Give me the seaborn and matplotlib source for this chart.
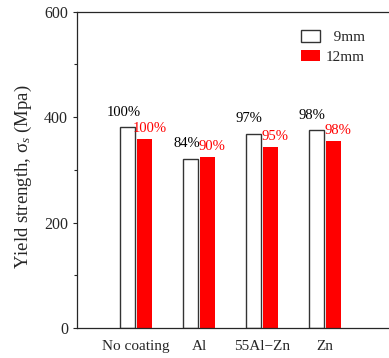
import pandas as pd
import seaborn as sns
import matplotlib.pyplot as plt
from matplotlib.ticker import MultipleLocator

# %% data
coatings = ['No coating', 'Al', '55Al\u2212Zn', 'Zn']
yield_9mm = [381, 321, 369, 375]
yield_12mm = [359, 325, 344, 355]
pct_9mm = ['100%', '84%', '97%', '98%']
pct_12mm = ['100%', '90%', '95%', '98%']

df = pd.DataFrame({
    'Coating': coatings * 2,
    'Yield': yield_9mm + yield_12mm,
    'Size': ['9mm'] * 4 + ['12mm'] * 4,
})

# %% style
sns.set_style('ticks')
plt.rcParams['font.family'] = ['Liberation Serif', 'DejaVu Serif']
plt.rcParams['mathtext.fontset'] = 'custom'
plt.rcParams['mathtext.rm'] = 'Liberation Serif'
plt.rcParams['mathtext.it'] = 'Liberation Serif:italic'
plt.rcParams['axes.linewidth'] = 0.9

fig = plt.figure(figsize=(3.89, 3.58), dpi=100)
ax = fig.add_axes([0.198, 0.084, 0.82, 0.883])

sns.barplot(data=df, x='Coating', y='Yield', hue='Size', hue_order=['9mm', '12mm'],
            palette={'9mm': 'white', '12mm': '#ff0000'}, width=0.54, gap=0.1,
            edgecolor='#333333', linewidth=1.0, saturation=1, ax=ax)

for bar in ax.containers[1]:
    bar.set_edgecolor('none')

# percentage labels
for bar, txt in zip(ax.containers[0], pct_9mm):
    ax.annotate(txt, (bar.get_x() + bar.get_width() / 2, bar.get_height()),
                xytext=(-3, 6), textcoords='offset points', ha='center', va='bottom',
                fontsize=10.5, color='black')
for bar, txt in zip(ax.containers[1], pct_12mm):
    ax.annotate(txt, (bar.get_x() + bar.get_width() / 2, bar.get_height()),
                xytext=(3.5, 3), textcoords='offset points', ha='center', va='bottom',
                fontsize=10.5, color='#ff0000')

# axes
ax.set_ylim(0, 600)
ax.set_xlim(-0.94, 4.13)
ax.yaxis.set_major_locator(MultipleLocator(200))
ax.yaxis.set_minor_locator(MultipleLocator(100))
ax.tick_params(axis='y', which='major', direction='out', length=3, width=0.8, labelsize=11.5)
ax.tick_params(axis='y', which='minor', direction='out', length=2, width=0.8)
ax.tick_params(axis='x', length=0, labelsize=11, pad=9)
ax.spines['right'].set_visible(False)
ax.set_xlabel('')
ax.set_ylabel('Yield strength, \u03c3$_s$ (Mpa)', fontsize=13.5)
ax.yaxis.set_label_coords(-0.135, 0.48)

handles, labels = ax.get_legend_handles_labels()
for h in handles:
    if h.get_facecolor()[1] == 0:
        h.set_edgecolor('none')
ax.legend(handles, ['\u20079mm', '12mm'], frameon=False, fontsize=11,
          loc='upper right', bbox_to_anchor=(0.945, 0.985),
          handlelength=1.2, handleheight=0.8, handletextpad=0.4, labelspacing=0.35)

fig.savefig('out.png', dpi=100)
